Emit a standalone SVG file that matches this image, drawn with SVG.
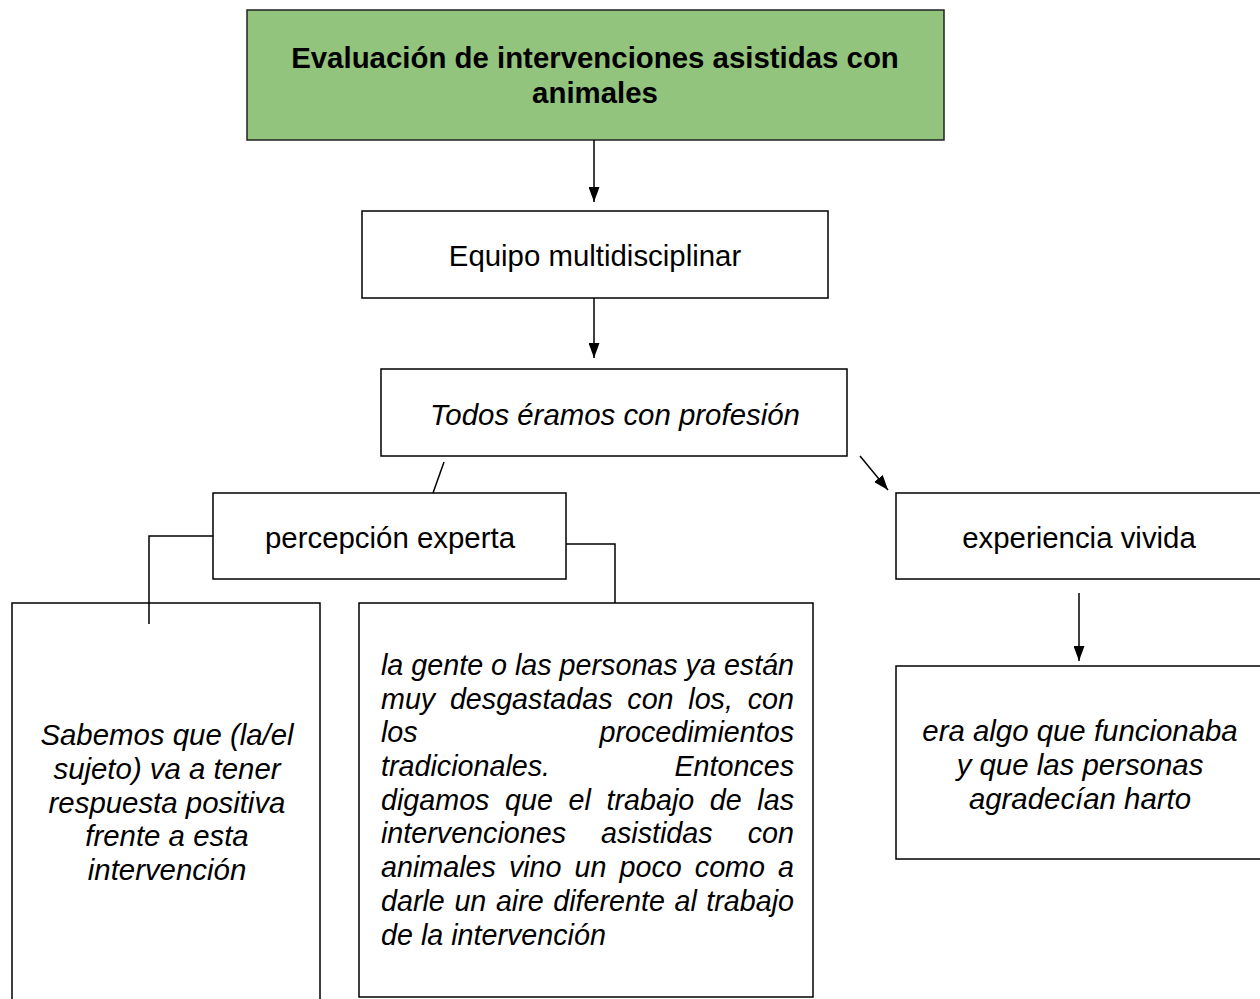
<svg xmlns="http://www.w3.org/2000/svg" width="1260" height="999" viewBox="0 0 1260 999">
<style>
.box{fill:#fff;stroke:#000;stroke-width:1.5}
.t{font-family:"Liberation Sans",Arial,sans-serif;font-size:29.4px;fill:#000}
.m{font-size:28.7px}
.c{text-anchor:middle}
.i{font-style:italic}
.b{font-weight:bold}
.ln{stroke:#000;stroke-width:1.5;fill:none}
</style>
<defs>
<marker id="ah" viewBox="0 0 15 11" refX="15" refY="5.5" markerWidth="15" markerHeight="11" markerUnits="userSpaceOnUse" orient="auto">
<path d="M0,0 L15,5.5 L0,11 z" fill="#000"/>
</marker>
</defs>
<g id="title">
<rect x="247" y="10" width="697" height="130" fill="#93c47d" stroke="#222" stroke-width="1.5"/>
<text class="t b c" x="595" y="68">Evaluación de intervenciones asistidas con</text>
<text class="t b c" x="595" y="103">animales</text>
</g>
<g id="equipo">
<rect class="box" x="362" y="211" width="466" height="87"/>
<text class="t c" x="595" y="266">Equipo multidisciplinar</text>
</g>
<g id="todos">
<rect class="box" x="381" y="369" width="466" height="87"/>
<text class="t i c" x="615" y="425">Todos éramos con profesión</text>
</g>
<g id="percepcion">
<rect class="box" x="213" y="493" width="353" height="86"/>
<text class="t c" x="390" y="548">percepción experta</text>
</g>
<g id="experiencia">
<rect class="box" x="896" y="493" width="370" height="86"/>
<text class="t c" x="1079" y="548">experiencia vivida</text>
</g>
<g id="sabemos">
<rect class="box" x="12" y="603" width="308" height="410"/>
<text class="t i c" x="167" y="745">Sabemos que (la/el</text>
<text class="t i c" x="167" y="779">sujeto) va a tener</text>
<text class="t i c" x="167" y="813">respuesta positiva</text>
<text class="t i c" x="167" y="846">frente a esta</text>
<text class="t i c" x="167" y="880">intervención</text>
</g>
<g id="gente">
<rect class="box" x="359" y="603" width="454" height="394"/>
<text class="t m i" x="381" y="675">la gente o las personas ya están</text>
<text class="t m i" y="709"><tspan x="381">muy</tspan><tspan x="449.9">desgastadas</tspan><tspan x="627.3">con</tspan><tspan x="688.3">los,</tspan></text>
<text class="t m i" y="709" x="794" text-anchor="end">con</text>
<text class="t m i" x="381" y="742">los</text>
<text class="t m i" y="742" x="794" text-anchor="end">procedimientos</text>
<text class="t m i" x="381" y="776">tradicionales.</text>
<text class="t m i" y="776" x="794" text-anchor="end">Entonces</text>
<text class="t m i" y="810"><tspan x="381">digamos</tspan><tspan x="505.1">que</tspan><tspan x="568.6">el</tspan><tspan x="606.5">trabajo</tspan><tspan x="709.8">de</tspan></text>
<text class="t m i" y="810" x="794" text-anchor="end">las</text>
<text class="t m i" y="843"><tspan x="381">intervenciones</tspan><tspan x="601">asistidas</tspan></text>
<text class="t m i" y="843" x="794" text-anchor="end">con</text>
<text class="t m i" y="877"><tspan x="381">animales</tspan><tspan x="508.9">vino</tspan><tspan x="574.6">un</tspan><tspan x="619.5">poco</tspan><tspan x="694.8">como</tspan></text>
<text class="t m i" y="877" x="794" text-anchor="end">a</text>
<text class="t m i" y="911"><tspan x="381">darle</tspan><tspan x="454.4">un</tspan><tspan x="495.9">aire</tspan><tspan x="553.3">diferente</tspan><tspan x="674.6">al</tspan></text>
<text class="t m i" y="911" x="794" text-anchor="end">trabajo</text>
<text class="t m i" x="381" y="945">de la intervención</text>
</g>
<g id="funcionaba">
<rect class="box" x="896" y="666" width="370" height="193"/>
<text class="t i c" x="1080" y="741">era algo que funcionaba</text>
<text class="t i c" x="1080" y="775">y que las personas</text>
<text class="t i c" x="1080" y="809">agradecían harto</text>
</g>
<g id="connectors">
<line class="ln" x1="594" y1="140" x2="594" y2="202" marker-end="url(#ah)"/>
<line class="ln" x1="594" y1="298" x2="594" y2="358" marker-end="url(#ah)"/>
<line class="ln" x1="444" y1="462" x2="433" y2="493"/>
<line class="ln" x1="860" y1="456" x2="888" y2="490" marker-end="url(#ah)"/>
<polyline class="ln" points="213,536 149,536 149,624"/>
<polyline class="ln" points="566,544 615,544 615,603"/>
<line class="ln" x1="1079" y1="593" x2="1079" y2="661" marker-end="url(#ah)"/>
</g>
</svg>
